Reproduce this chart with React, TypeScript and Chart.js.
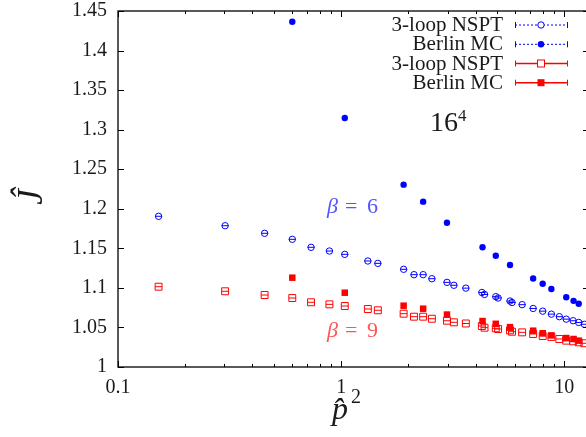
import React, { useEffect, useRef } from 'react';
import { Chart, registerables } from 'chart.js';

Chart.register(...registerables);

// lattice momenta p^2 for the 3-loop NSPT points
const nsptP2 = [0.152, 0.302, 0.454, 0.604, 0.733, 0.886, 1.038, 1.317, 1.46, 1.905, 2.12, 2.33, 2.55, 2.98, 3.2, 3.62, 4.27, 4.39, 4.93, 5.05, 5.71, 5.83, 6.47, 7.25, 8.0, 8.75, 9.5, 10.2, 10.95, 11.6, 12.3];
const nsptBeta6 = [1.1905, 1.1786, 1.169, 1.1614, 1.1513, 1.1466, 1.1424, 1.134, 1.131, 1.1235, 1.1167, 1.1167, 1.1116, 1.107, 1.1033, 1.0997, 1.0942, 1.0917, 1.0889, 1.0872, 1.0834, 1.0815, 1.0788, 1.074, 1.0706, 1.0668, 1.0636, 1.0605, 1.0585, 1.0563, 1.054];
const nsptBeta9 = [1.1015, 1.0957, 1.091, 1.0872, 1.0818, 1.0792, 1.0771, 1.0733, 1.0717, 1.0674, 1.0636, 1.0636, 1.061, 1.0585, 1.0565, 1.055, 1.0518, 1.0497, 1.0489, 1.048, 1.0463, 1.0446, 1.0438, 1.0417, 1.0392, 1.038, 1.0354, 1.0333, 1.0325, 1.0312, 1.03];

// Berlin MC points
const mcP2 = [0.604, 1.038, 1.905, 2.33, 2.98, 4.3, 4.93, 5.71, 7.25, 8.0, 8.75, 10.2, 11.0, 11.6];
const mcBeta6 = [1.4365, 1.3147, 1.2305, 1.209, 1.1824, 1.1513, 1.1407, 1.129, 1.1118, 1.1053, 1.0986, 1.0881, 1.0836, 1.08];
const mcBeta9 = [1.1129, 1.0939, 1.0775, 1.0737, 1.0663, 1.0581, 1.0546, 1.0504, 1.0459, 1.0427, 1.04, 1.0366, 1.0354, 1.0333];

const yTicks = [1, 1.05, 1.1, 1.15, 1.2, 1.25, 1.3, 1.35, 1.4, 1.45];
const xMajorTicks = [0.1, 1, 10];
const legendLabels = ['3-loop NSPT', 'Berlin MC', '3-loop NSPT', 'Berlin MC'];
const latticeLabel = '16';
const latticeExp = '4';
const beta6Label = '6';
const beta9Label = '9';

const BLUE = '#0000ff';
const RED = '#ff0000';
const BLUE_LIGHT = 'rgb(85,85,255)';
const RED_LIGHT = 'rgb(255,85,85)';
const SERIF = "'Liberation Serif', 'Times New Roman', serif";
const TEXT = '#1a1a1a';

Chart.defaults.font.family = SERIF;

const toPts = (xs: number[], ys: number[]) => xs.map((x, i) => ({ x, y: ys[i] }));

const drawMarker = (ctx: CanvasRenderingContext2D, kind: number, x: number, y: number) => {
  ctx.save();
  ctx.lineWidth = 1;
  if (kind === 0) {
    ctx.strokeStyle = BLUE;
    ctx.beginPath(); ctx.arc(x, y, 3.2, 0, Math.PI * 2); ctx.stroke();
  } else if (kind === 1) {
    ctx.fillStyle = BLUE;
    ctx.beginPath(); ctx.arc(x, y, 3.2, 0, Math.PI * 2); ctx.fill();
  } else if (kind === 2) {
    ctx.strokeStyle = RED;
    ctx.strokeRect(x - 3.5, y - 3.5, 7, 7);
  } else {
    ctx.fillStyle = RED;
    ctx.fillRect(x - 3.5, y - 3.5, 7, 7);
  }
  ctx.restore();
};

const decorPlugin = {
  id: 'decor',
  afterDatasetsDraw(chart: any) {
    const ctx: CanvasRenderingContext2D = chart.ctx;
    // error-bar caps through open markers
    [0, 2].forEach((di) => {
      const meta = chart.getDatasetMeta(di);
      ctx.save();
      ctx.strokeStyle = di === 0 ? BLUE : RED;
      ctx.lineWidth = 1;
      meta.data.forEach((el: any) => {
        ctx.beginPath();
        ctx.moveTo(el.x - 3.5, el.y);
        ctx.lineTo(el.x + 3.5, el.y);
        ctx.stroke();
      });
      ctx.restore();
    });
  },
  afterDraw(chart: any) {
    const ctx: CanvasRenderingContext2D = chart.ctx;
    const a = chart.chartArea;
    const xs = chart.scales.x;
    const ys = chart.scales.y;
    ctx.save();
    ctx.strokeStyle = '#000';
    ctx.lineWidth = 1.3;
    ctx.strokeRect(a.left, a.top, a.right - a.left, a.bottom - a.top);
    ctx.lineWidth = 1;
    ctx.beginPath();
    yTicks.forEach((v) => {
      const py = Math.round(ys.getPixelForValue(v)) + 0.5;
      ctx.moveTo(a.left, py); ctx.lineTo(a.left + 6, py);
      ctx.moveTo(a.right, py); ctx.lineTo(a.right - 6, py);
    });
    xMajorTicks.forEach((dec) => {
      for (let k = 1; k <= 9; k++) {
        const v = dec * k;
        if (v > xs.max) break;
        const px = Math.round(xs.getPixelForValue(v)) + 0.5;
        const len = k === 1 ? 6 : 3;
        ctx.moveTo(px, a.bottom); ctx.lineTo(px, a.bottom - len);
        ctx.moveTo(px, a.top); ctx.lineTo(px, a.top + len);
      }
    });
    ctx.stroke();

    // axis titles
    ctx.fillStyle = TEXT;
    ctx.save();
    ctx.translate(42, 197);
    ctx.rotate(-Math.PI / 2);
    ctx.font = `italic 35px ${SERIF}`;
    ctx.textAlign = 'center';
    ctx.textBaseline = 'alphabetic';
    ctx.fillText('Ĵ', 0, 0);
    ctx.restore();

    ctx.textAlign = 'left';
    ctx.textBaseline = 'alphabetic';
    ctx.font = `italic 32px ${SERIF}`;
    ctx.fillText('p\u0302', 332, 419);
    ctx.font = `20px ${SERIF}`;
    ctx.fillText('2', 351, 403);

    // lattice size
    ctx.font = `28px ${SERIF}`;
    ctx.fillText(latticeLabel, 430, 131);
    ctx.font = `17px ${SERIF}`;
    ctx.fillText(latticeExp, 458, 121);

    // beta labels
    const betaLabel = (color: string, val: string, base: number) => {
      ctx.fillStyle = color;
      ctx.font = `italic 22px ${SERIF}`;
      ctx.textAlign = 'left';
      ctx.fillText('β', 327, base);
      ctx.font = `22px ${SERIF}`;
      ctx.fillText('=', 345, base);
      ctx.fillText(val, 367, base);
    };
    betaLabel(BLUE_LIGHT, beta6Label, 213);
    betaLabel(RED_LIGHT, beta9Label, 337);

    // legend
    const rows = [25, 44.3, 63.5, 82.7];
    rows.forEach((ry, i) => {
      ctx.fillStyle = TEXT;
      ctx.font = `21px ${SERIF}`;
      ctx.textAlign = 'right';
      ctx.textBaseline = 'middle';
      ctx.fillText(legendLabels[i], 503, ry + 0.5);
      const col = i < 2 ? BLUE : RED;
      ctx.strokeStyle = col;
      ctx.lineWidth = i < 2 ? 1 : 1.5;
      ctx.setLineDash(i < 2 ? [2, 2] : []);
      ctx.beginPath();
      ctx.moveTo(515, ry); ctx.lineTo(568, ry);
      ctx.stroke();
      ctx.setLineDash([]);
      ctx.lineWidth = 1;
      ctx.beginPath();
      ctx.moveTo(515.5, ry - 3); ctx.lineTo(515.5, ry + 3);
      ctx.moveTo(567.5, ry - 3); ctx.lineTo(567.5, ry + 3);
      ctx.stroke();
      ctx.fillStyle = '#fff';
      if (i === 0) { ctx.beginPath(); ctx.arc(541, ry, 3.2, 0, Math.PI * 2); ctx.fill(); }
      if (i === 2) ctx.fillRect(537.5, ry - 3.5, 7, 7);
      drawMarker(ctx, i, 541, ry);
    });
    ctx.restore();
  },
};

export default function App() {
  const ref = useRef<HTMLCanvasElement | null>(null);
  useEffect(() => {
    document.body.style.margin = '0';
    document.body.style.overflow = 'hidden';
    const canvas = ref.current;
    if (!canvas) return;
    const chart = new Chart(canvas, {
      type: 'scatter',
      data: {
        datasets: [
          { label: legendLabels[0], data: toPts(nsptP2, nsptBeta6), pointStyle: 'circle', pointRadius: 3.2, borderColor: BLUE, backgroundColor: 'rgba(0,0,0,0)', borderWidth: 1, showLine: false },
          { label: legendLabels[1], data: toPts(mcP2, mcBeta6), pointStyle: 'circle', pointRadius: 3.2, borderColor: BLUE, backgroundColor: BLUE, borderWidth: 0, showLine: false },
          { label: legendLabels[2], data: toPts(nsptP2, nsptBeta9), pointStyle: 'rect', pointRadius: 4.9, borderColor: RED, backgroundColor: 'rgba(0,0,0,0)', borderWidth: 1, showLine: false },
          { label: legendLabels[3], data: toPts(mcP2, mcBeta9), pointStyle: 'rect', pointRadius: 4.6, borderColor: RED, backgroundColor: RED, borderWidth: 0, showLine: false },
        ],
      },
      options: {
        responsive: false,
        animation: false,
        events: [],
        layout: { padding: { left: 0, top: 11, right: 11, bottom: 0 } },
        plugins: { legend: { display: false }, tooltip: { enabled: false } },
        scales: {
          x: {
            type: 'logarithmic',
            min: 0.1,
            max: 12.9,
            border: { display: false },
            grid: { display: false, drawTicks: false },
            afterBuildTicks: (s: any) => { s.ticks = xMajorTicks.map((v) => ({ value: v })); },
            afterFit: (s: any) => { s.height = 70; s.paddingLeft = 0; s.paddingRight = 0; },
            ticks: {
              autoSkip: false,
              maxRotation: 0,
              padding: 9,
              color: TEXT,
              font: { family: SERIF, size: 20 },
              callback: (v: any) => String(Number(v)),
            },
          },
          y: {
            type: 'linear',
            min: 1,
            max: 1.45,
            border: { display: false },
            grid: { display: false, drawTicks: false },
            afterBuildTicks: (s: any) => { s.ticks = yTicks.map((v) => ({ value: v })); },
            afterFit: (s: any) => { s.width = 118; s.paddingTop = 0; s.paddingBottom = 0; },
            ticks: {
              autoSkip: false,
              padding: 11,
              color: TEXT,
              font: { family: SERIF, size: 20 },
              callback: (v: any) => String(Number(Number(v).toFixed(2))),
            },
          },
        },
      },
      plugins: [decorPlugin],
    } as any);
    return () => chart.destroy();
  }, []);
  return (
    <div style={{ width: 586, height: 437, overflow: 'hidden', position: 'relative', background: '#fff' }}>
      <canvas ref={ref} width={600} height={437} style={{ display: 'block' }} />
    </div>
  );
}
